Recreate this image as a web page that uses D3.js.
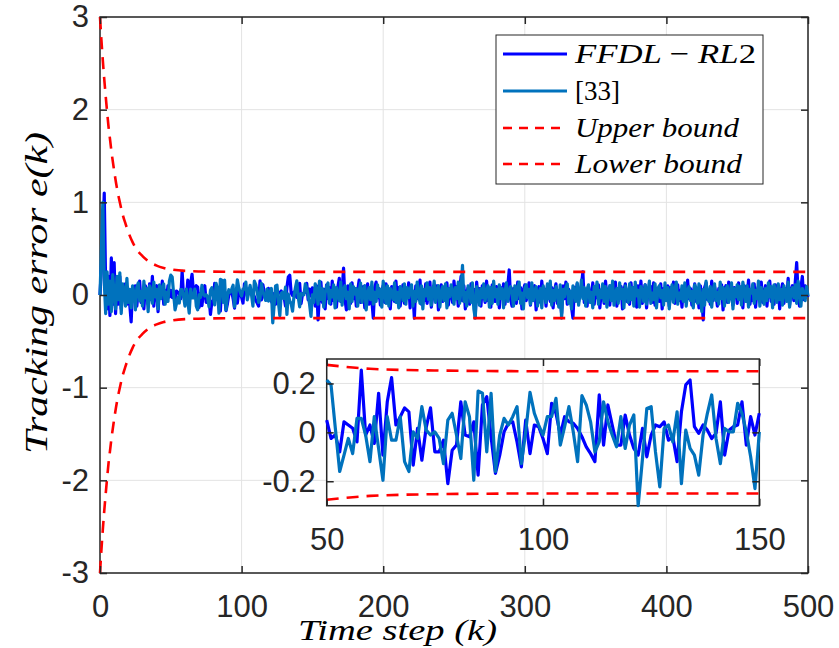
<!DOCTYPE html>
<html>
<head>
<meta charset="utf-8">
<script src="https://cdn.jsdelivr.net/npm/d3@7"></script>
<style>
  body { margin: 0; background: #fff; }
  .tick text { font-family: "Liberation Sans", Arial, sans-serif; fill: #262626; }
  .lab { font-family: "Liberation Serif", "Times New Roman", serif; font-style: italic; fill: #000; }
</style>
</head>
<body>
<svg id="chart" width="839" height="648"></svg>
<script>

// tracking error of FFDL-RL2, one value per time step k = 0..500

var ffdl = [
  0, 0.3, 0.6, 1.1, 0.1, -0.15, 0.2, -0.22, 0.4, -0.1,
  0.35, -0.2, 0.15, -0.1, 0.2, -0.15, 0.1, -0.05, 0.12, -0.1,
  0.05, -0.1, -0.29, 0.08, -0.05, 0.1, -0.12, 0.05, 0.15, -0.08,
  0.02, -0.15, 0.1, 0.05, -0.1, 0.12, -0.05, 0.2, -0.12, 0.05,
  0.1, -0.18, 0.08, 0, 0.15, -0.1, 0.05, -0.05, 0.1, -0.02,
  0.05, -0.025, -0.01, -0.08, 0.043, 0.03, 0.017, -0.039, 0.255, -0.011,
  0.03, -0.045, 0.16, -0.093, 0.125, 0.224, 0.03, 0.064, 0.1, 0.084,
  -0.134, 0.016, -0.114, 0.02, 0.1, -0.08, -0.08, -0.032, -0.21, -0.073,
  -0.052, 0.125, -0.011, -0.018, 0.043, -0.175, 0.112, 0.146, -0.018, -0.168,
  -0.093, 0.002, 0.037, 0.043, -0.039, -0.141, 0.05, -0.087, 0.03, 0.023,
  -0.025, -0.087, 0.119, 0.078, -0.011, 0.064, 0.043, 0.037, 0.016, -0.018,
  -0.059, -0.087, -0.12, 0.153, -0.052, 0.112, 0.03, -0.052, -0.052, 0.071,
  -0.011, -0.066, -0.093, 0.016, -0.1, -0.011, 0.03, 0.023, 0.043, -0.032,
  -0.018, -0.12, 0.084, 0.194, 0.214, 0.023, -0.004, 0.03, 0.009, -0.025,
  -0.004, 0.125, -0.093, 0.009, 0.023, 0.03, 0.125, -0.052, 0.064, -0.011,
  0.078,
  0.05, -0.12, 0.1, -0.27, 0.02, 0.14, -0.08, 0.06, -0.15, 0.11,
  -0.04, 0.08, -0.1, 0.15, -0.06, 0.03, -0.13, 0.09, 0.18, -0.07,
  0.04, 0.29, -0.05, -0.16, 0.1, 0.02, -0.09, 0.13, -0.04, 0.07,
  -0.12, 0.05, 0.16, -0.08, 0, 0.09, -0.14, 0.06, 0.12, -0.1,
  0.03, -0.06, -0.25, 0.08, 0.14, -0.03, 0.07, -0.11, 0.04, 0.1,
  -0.08, 0.12, -0.02, 0.06, -0.15, 0.09, 0.02, -0.07, 0.15, -0.05,
  0.08, -0.12, 0.03, 0.11, -0.09, 0.05, -0.03, 0.13, -0.14, 0.06,
  0.02, -0.25, 0.1, -0.04, 0.07, 0.16, -0.1, 0.03, -0.06, 0.12,
  -0.09, 0.05, 0.14, -0.13, 0, 0.08, -0.05, 0.1, -0.16, 0.04,
  0.11, -0.07, 0.06, -0.02, 0.13, -0.11, 0.07, 0.02, -0.08, 0.15,
  -0.04, 0.09, -0.12, 0.05, 0.2, -0.06, 0.1, -0.15, 0.03, 0.08,
  -0.1, 0.12, -0.05, 0.06, -0.24, 0.14, -0.03, 0.07, -0.12, 0.1,
  0.02, -0.08, 0.15, -0.06, 0.04, -0.13, 0.11, 0, -0.07, 0.09,
  0.05, -0.14, 0.08, -0.03, 0.12, -0.1, 0.06, 0.1, 0.27, -0.05,
  -0.12, 0.07, 0.03, -0.09, 0.14, -0.04, 0.08, -0.15, 0.05, 0.11,
  -0.06, 0.02, 0.13, -0.11, 0.07, -0.02, 0.1, -0.16, 0.04, 0.09,
  -0.08, 0.15, -0.03, 0.06, -0.12, 0.11, 0.01, -0.07, 0.08, -0.14,
  0.05, 0.12, -0.09, 0.03, -0.05, -0.2, 0.1, -0.04, 0.14, -0.1,
  0.06, 0.02, -0.13, -0.25, 0.08, -0.03, 0.12, -0.07, 0.04, 0.1,
  0.25, -0.08, 0.05, -0.12, 0.09, 0.01, -0.06, 0.13, -0.1, 0.07,
  -0.03, 0.11, -0.14, 0.04, 0.08, -0.09, 0.15, -0.02, 0.06, -0.11,
  0.1, -0.05, 0.03, 0.14, -0.12, 0.07, -0.01, 0.09, -0.15, 0.05,
  0.12, -0.07, 0.02, -0.1, 0.13, -0.04, 0.08, 0, -0.13, 0.1,
  -0.06, 0.15, -0.09, 0.04, 0.11, -0.14, 0.06, -0.02, 0.09, -0.08,
  0.13, -0.11, 0.05, 0.02, -0.07, 0.12, -0.15, 0.07, 0.03, -0.05,
  0.1, -0.12, 0.08, -0.03, 0.14, -0.09, 0.01, 0.11, -0.06, 0.05,
  -0.13, 0.09, 0.04, -0.08, 0.16, -0.04, 0.07, -0.11, 0.02, 0.12,
  -0.07, 0.06, -0.14, 0.1, -0.02, -0.27, 0.08, 0.13, -0.05, 0.03,
  -0.1, 0.15, -0.06, 0.09, 0.01, -0.12, 0.07, -0.03, 0.11, -0.16,
  0.05, 0.1, -0.08, 0.14, -0.04, 0.02, -0.11, 0.08, 0.06, -0.09,
  0.13, -0.05, 0.04, -0.14, 0.1, 0.07, -0.02, 0.16, -0.1, 0.03,
  -0.06, 0.12, -0.13, 0.05, 0.09, -0.04, 0.14, -0.08, 0.02, 0.1,
  -0.12, 0.06, 0.15, -0.07, 0.03, -0.1, 0.11, -0.05, 0.08, -0.15,
  0.04, 0.12, -0.09, 0.07, -0.03, 0.18, -0.11, 0.05, 0.1, -0.06,
  0.14, 0.35, 0.02, -0.12, 0.08, 0.2, -0.05, 0.1, 0.04, -0.02
];

// tracking error of the method from [33]

var ref33 = [
  0, 0.5, 1.0, 0.15, -0.2, 0.25, -0.1, 0.15, -0.18, 0.22,
  0, -0.15, 0.2, -0.05, 0.24, -0.2, 0.12, 0.05, -0.12, 0.18,
  -0.08, 0.06, -0.14, 0.1, 0.02, -0.16, 0.08, 0.13, -0.06, 0.04,
  -0.12, 0.15, -0.03, 0.07, -0.18, 0.1, 0.05, -0.09, 0.14, -0.02,
  0.06, -0.15, 0.11, -0.04, 0.08, 0.12, -0.1, 0.03, -0.07, 0.15,
  0.214, 0.194, 0.016, -0.16, -0.093, -0.025, -0.087, 0.057, 0.057, -0.011,
  -0.12, 0.064, -0.066, -0.196, 0.064, -0.032, -0.032, 0.064, -0.12, -0.16,
  0.002, -0.025, 0.105, 0.009, -0.011, 0.002, -0.025, -0.128, 0.05, 0.078,
  -0.011, -0.107, 0.125, 0.064, -0.196, 0.169, 0.16, -0.08, 0.16, -0.16,
  -0.011, 0.057, 0.03, 0.064, 0.105, -0.128, 0.002, 0.164, 0.078, 0.03,
  -0.011, 0.064, 0.064, 0.139, -0.052, 0.023, 0.105, 0.002, -0.12, 0.15,
  0.112, 0.043, -0.08, -0.039, 0.125, 0.043, -0.011, -0.059, 0.064, -0.066,
  0.03, 0.071, -0.3, -0.107, 0.098, 0.105, -0.08, -0.223, 0.016, 0.03,
  -0.039, 0.084, -0.21, 0.009, -0.066, -0.093, -0.175, -0.011, 0.078, 0.153,
  -0.025, -0.128, 0.016, 0.002, 0.002, 0.119, 0.078, 0.002, -0.1, -0.23,
  0.002,
  -0.08, 0.12, 0.04, -0.1, 0.15, -0.05, 0.07, -0.13, 0.02, 0.09,
  0.13, -0.09, 0.05, -0.02, 0.11, -0.14, 0.08, 0, -0.06, 0.14,
  -0.11, 0.06, 0.1, -0.04, 0.03, -0.15, 0.12, -0.07, 0.09, 0.01,
  0.07, -0.12, 0.04, 0.13, -0.08, 0.05, 0.1, -0.16, 0.02, 0.08,
  -0.05, 0.14, -0.1, 0.03, -0.07, 0.11, -0.02, 0.06, -0.13, 0.15,
  0.04, -0.09, 0.1, -0.12, 0.07, 0.01, -0.05, 0.13, -0.08, 0.03,
  -0.14, 0.09, 0.05, -0.06, 0.12, -0.1, 0.08, -0.03, 0.06, 0.11,
  -0.12, 0.04, -0.07, 0.14, 0.02, -0.09, 0.1, -0.15, 0.06, -0.01,
  0.13, -0.05, 0.08, -0.11, 0.03, 0.15, -0.08, 0.05, 0.1, -0.13,
  0.02, 0.09, -0.06, 0.12, -0.14, 0.07, -0.02, 0.11, 0.04, -0.1,
  0.08, -0.04, 0.14, -0.09, 0.06, 0.32, -0.07, 0.03, -0.12, 0.1,
  0.05, -0.08, 0.13, -0.15, -0.25, 0.09, 0.02, -0.11, 0.07, -0.03,
  0.12, -0.06, 0.04, 0.1, -0.13, 0.08, -0.09, 0.15, -0.02, 0.06,
  -0.1, 0.11, -0.04, 0.07, -0.14, 0.03, 0.13, -0.07, 0.05, 0.09,
  0.01, -0.12, 0.1, -0.05, 0.08, 0.14, -0.09, 0.02, -0.15, 0.07,
  0.11, -0.03, 0.06, -0.1, 0.13, -0.06, 0.04, 0.09, -0.12, 0.03,
  0.07, -0.14, 0.1, 0.02, -0.08, 0.12, -0.04, 0.15, -0.11, 0.05,
  -0.06, 0.09, 0.03, -0.13, 0.11, -0.25, 0.06, -0.02, 0.08, 0.12,
  -0.09, 0.04, -0.15, 0.1, 0.05, -0.07, 0.13, -0.11, 0.02, 0.16,
  -0.04, 0.08, -0.12, 0.06, 0.11, -0.08, 0.03, -0.14, 0.09, 0.01,
  0.14, -0.1, 0.05, -0.03, 0.12, -0.07, 0.09, -0.13, 0.04, 0.1,
  -0.06, 0.15, -0.11, 0.02, 0.07, -0.09, 0.13, -0.04, 0.06, -0.14,
  0.1, 0.03, -0.08, 0.12, -0.05, 0.08, -0.12, 0.14, -0.01, 0.05,
  -0.13, 0.09, 0.06, -0.07, 0.11, -0.1, 0.04, 0.15, -0.09, 0.02,
  -0.05, 0.12, -0.14, 0.07, 0.1, -0.03, 0.05, -0.11, 0.13, -0.06,
  0.08, -0.15, 0.03, 0.11, -0.08, 0.06, 0.14, -0.1, 0.02, -0.04,
  0.1, -0.07, 0.13, -0.12, 0.05, 0.09, -0.06, 0.04, -0.14, 0.11,
  0.07, -0.09, 0.12, -0.03, -0.18, 0.06, -0.11, 0.15, 0.01, -0.07,
  0.09, -0.13, 0.05, 0.12, -0.06, 0.03, -0.1, 0.14, -0.04, 0.08,
  -0.12, 0.06, 0.1, -0.08, 0.02, 0.13, -0.15, 0.07, -0.02, 0.11,
  -0.05, 0.09, -0.11, 0.14, 0.04, -0.07, 0.1, -0.13, 0.06, 0.02,
  0.12, -0.09, 0.05, -0.04, 0.15, -0.12, 0.08, 0.03, -0.1, 0.07,
  -0.06, 0.13, -0.02, 0.09, -0.14, 0.11, 0.04, -0.08, 0.12, -0.05,
  0.06, -0.11, 0.1, 0.02, -0.07, 0.14, -0.13, 0.05, 0.08, -0.03,
  0.11, -0.09, 0.15, 0.04, -0.12, 0.07, 0.02, -0.06, 0.09, -0.01
];

// prescribed bounds, read at a few time steps

var boundK = [0, 1, 2, 3, 4, 5, 6, 7, 8, 10, 12, 14, 16, 18, 20, 23, 26, 30, 35, 40, 45, 50, 60, 75, 100, 150, 200, 300, 400, 500];
var upperB = [3, 2.75, 2.53, 2.33, 2.15, 1.98, 1.82, 1.69, 1.56, 1.34, 1.15, 1.0, 0.87, 0.77, 0.68, 0.57, 0.49, 0.42, 0.356, 0.317, 0.292, 0.276, 0.26, 0.253, 0.25, 0.25, 0.25, 0.25, 0.25, 0.25];
var lowerB = [-3, -2.75, -2.53, -2.33, -2.15, -1.98, -1.82, -1.69, -1.56, -1.34, -1.15, -1.0, -0.87, -0.77, -0.68, -0.57, -0.49, -0.42, -0.356, -0.317, -0.292, -0.276, -0.26, -0.253, -0.25, -0.25, -0.25, -0.25, -0.25, -0.25];

// ticks

var xTicks = [0, 100, 200, 300, 400, 500];
var yTicks = [-3, -2, -1, 0, 1, 2, 3];
var inXTicks = [50, 100, 150];
var inYTicks = [-0.2, 0, 0.2];

var legendNames = ['FFDL - RL2', '[33]', 'Upper bound', 'Lower bound'];

var axisColor = '#262626';
var gridColor = '#e3e3e3';
var blue = '#0000ff';
var teal = '#0072bd';
var red = '#ff0000';

var svg = d3.select('#chart');

// turn the arrays into point lists

var ffdlPts = ffdl.map(function(v, i) { return {k: i, v: v}; });
var refPts = ref33.map(function(v, i) { return {k: i, v: v}; });
var upPts = boundK.map(function(k, i) { return {k: k, v: upperB[i]}; });
var lowPts = boundK.map(function(k, i) { return {k: k, v: lowerB[i]}; });

// draw one set of axes: grid, box, lines, bounds, ticks

function panel(x, y, xt, yt, filt, clipId) {
    var g = svg.append('g');
    var x0 = x.range()[0], x1 = x.range()[1];
    var y0 = y.range()[1], y1 = y.range()[0];

    g.append('rect')
      .attr('x', x0).attr('y', y0)
      .attr('width', x1 - x0).attr('height', y1 - y0)
      .attr('fill', '#fff');

    // clip a little wider than the box so lines on the edge keep their full width

    svg.append('clipPath').attr('id', clipId)
      .append('rect')
      .attr('x', x0 - 2).attr('y', y0 - 2)
      .attr('width', x1 - x0 + 4).attr('height', y1 - y0 + 4);

    // grid lines

    g.selectAll('.gx').data(xt).enter().append('line')
      .attr('x1', function(d) { return x(d); }).attr('x2', function(d) { return x(d); })
      .attr('y1', y0).attr('y2', y1)
      .attr('stroke', gridColor).attr('stroke-width', 1);
    g.selectAll('.gy').data(yt).enter().append('line')
      .attr('y1', function(d) { return y(d); }).attr('y2', function(d) { return y(d); })
      .attr('x1', x0).attr('x2', x1)
      .attr('stroke', gridColor).attr('stroke-width', 1);

    // box goes under the lines so the bound along the left edge stays visible

    g.append('rect')
      .attr('x', x0).attr('y', y0)
      .attr('width', x1 - x0).attr('height', y1 - y0)
      .attr('fill', 'none').attr('stroke', axisColor).attr('stroke-width', 1.5);

    var line = d3.line()
      .x(function(d) { return x(d.k); })
      .y(function(d) { return y(d.v); });
    var curve = d3.line()
      .curve(d3.curveMonotoneX)
      .x(function(d) { return x(d.k); })
      .y(function(d) { return y(d.v); });

    var plot = g.append('g').attr('clip-path', 'url(#' + clipId + ')');

    plot.append('path').datum(ffdlPts.filter(filt))
      .attr('d', line).attr('fill', 'none')
      .attr('stroke', blue).attr('stroke-width', 3.2).attr('stroke-linejoin', 'round');
    plot.append('path').datum(refPts.filter(filt))
      .attr('d', line).attr('fill', 'none')
      .attr('stroke', teal).attr('stroke-width', 3.2).attr('stroke-linejoin', 'round');
    [upPts, lowPts].forEach(function(b) {
        plot.append('path').datum(b.filter(filt))
          .attr('d', curve).attr('fill', 'none')
          .attr('stroke', red).attr('stroke-width', 2.6)
          .attr('stroke-dasharray', '12,8');
    });

    // inward ticks on all four sides

    var fmt = function(d) { return String(d); };

    var bottom = g.append('g').attr('transform', 'translate(0,' + y1 + ')')
      .call(d3.axisBottom(x).tickValues(xt).tickFormat(fmt).tickSizeInner(-7).tickSizeOuter(0).tickPadding(22));
    var left = g.append('g').attr('transform', 'translate(' + x0 + ',0)')
      .call(d3.axisLeft(y).tickValues(yt).tickFormat(fmt).tickSizeInner(-7).tickSizeOuter(0).tickPadding(11));
    var top = g.append('g').attr('transform', 'translate(0,' + y0 + ')')
      .call(d3.axisTop(x).tickValues(xt).tickFormat('').tickSizeInner(-7).tickSizeOuter(0));
    var right = g.append('g').attr('transform', 'translate(' + x1 + ',0)')
      .call(d3.axisRight(y).tickValues(yt).tickFormat('').tickSizeInner(-7).tickSizeOuter(0));

    [bottom, left, top, right].forEach(function(a) {
        a.select('.domain').remove();
        a.selectAll('line').attr('stroke', axisColor).attr('stroke-width', 1.5);
        a.selectAll('text').style('font-size', '31px');
    });
}

// main chart

var x = d3.scaleLinear().domain([0, 500]).range([100, 808]);
var y = d3.scaleLinear().domain([-3, 3]).range([573, 17]);
panel(x, y, xTicks, yTicks, function(d) { return true; }, 'clipMain');

// legend

var leg = svg.append('g');
leg.append('rect')
  .attr('x', 496).attr('y', 35).attr('width', 267).attr('height', 149)
  .attr('fill', '#fff').attr('stroke', axisColor).attr('stroke-width', 1);

var legRows = [
    {name: legendNames[0], color: blue, dash: null, y: 54, w: 181},
    {name: legendNames[1], color: teal, dash: null, y: 91, w: null},
    {name: legendNames[2], color: red, dash: '9,7', y: 128, w: 164},
    {name: legendNames[3], color: red, dash: '9,7', y: 164, w: 167}
];

legRows.forEach(function(r, i) {
    leg.append('line')
      .attr('x1', 503).attr('x2', 567).attr('y1', r.y).attr('y2', r.y)
      .attr('stroke', r.color).attr('stroke-width', i < 2 ? 3.2 : 2.6)
      .attr('stroke-dasharray', r.dash);
    var t = leg.append('text')
      .attr('class', 'lab')
      .attr('x', 575).attr('y', r.y + 9)
      .style('font-size', '28px');
    if (r.w) {
        t.attr('textLength', r.w).attr('lengthAdjust', 'spacingAndGlyphs');
    }
    if (i == 0) {
        t.append('tspan').text('FFDL ');
        t.append('tspan').style('font-style', 'normal').text('\u2212');
        t.append('tspan').text(' RL');
        t.append('tspan').style('font-style', 'normal').text('2');
    } else if (i == 1) {
        t.style('font-style', 'normal').style('font-size', '27px').text(r.name);
    } else {
        t.text(r.name);
    }
});

// zoomed inset for k = 50..150

var xi = d3.scaleLinear().domain([50, 150]).range([326.7, 759.3]);
var yi = d3.scaleLinear().domain([-0.3, 0.3]).range([505.7, 359]);
panel(xi, yi, inXTicks, inYTicks, function(d) { return d.k >= 50 && d.k <= 150; }, 'clipInset');

// axis labels

svg.append('text')
  .attr('class', 'lab')
  .attr('x', 397.5).attr('y', 640)
  .attr('text-anchor', 'middle')
  .attr('textLength', 199).attr('lengthAdjust', 'spacingAndGlyphs')
  .style('font-size', '30px')
  .text('Time step (k)');

svg.append('text')
  .attr('class', 'lab')
  .attr('transform', 'translate(47,293) rotate(-90)')
  .attr('text-anchor', 'middle')
  .attr('textLength', 322).attr('lengthAdjust', 'spacingAndGlyphs')
  .style('font-size', '32px')
  .text('Tracking error e(k)');

</script>
</body>
</html>
